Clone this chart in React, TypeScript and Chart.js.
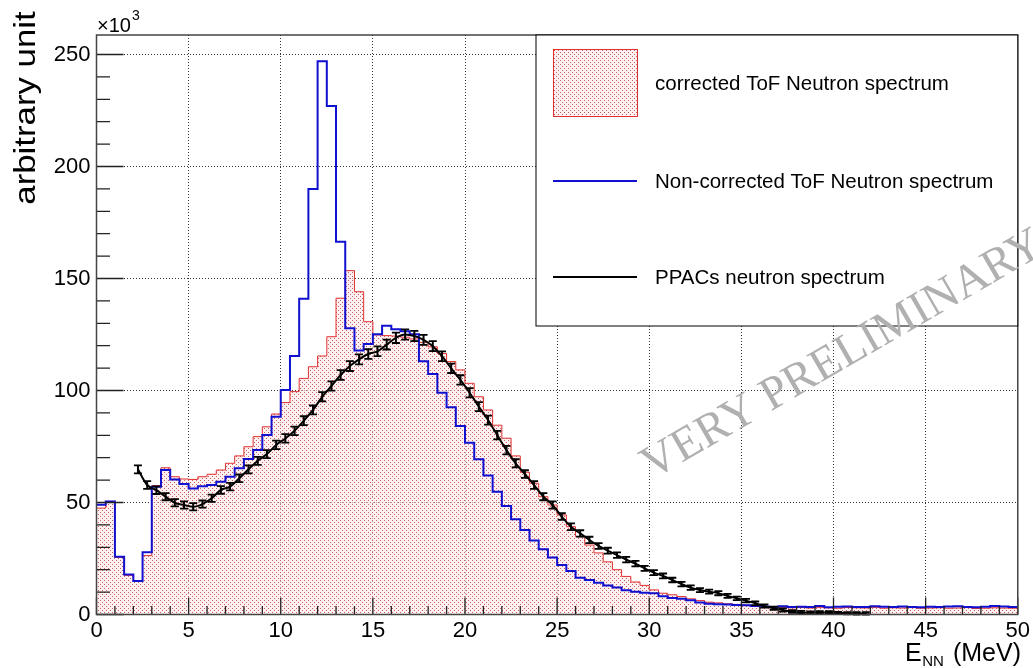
import React, { useEffect, useRef } from "react";
import { Chart, registerables } from "chart.js";

Chart.register(...registerables);

const FONT = "'Liberation Sans', Arial, Helvetica, sans-serif";
const SERIF = "'Liberation Serif', 'Times New Roman', serif";

// axis definition (energy in MeV, counts in units of 10^3)
const xMin = 0;
const xMax = 50;
const binWidth = 0.5;
const yMaxK = 258.7;
const xTickStep = 5;
const yTickStep = 50;

// corrected ToF neutron spectrum, 100 bins of 0.5 MeV (x10^3)
const correctedToF = [
  47.5, 50.5, 25.5, 17.5, 14.8, 26.3, 57.5, 65.5, 61.5, 60.5,
  60.3, 61.5, 62.6, 64.5, 67.5, 70.8, 74.9, 79.4, 83.8, 89.5,
  94.6, 99.5, 105.4, 110.6, 115.4, 124.0, 141.2, 153.5, 144.1, 130.7,
  124.8, 124.5, 124.3, 123.8, 123.0, 121.5, 119.5, 116.5, 112.9, 109.2,
  103.2, 97.2, 91.3, 84.5, 78.7, 70.8, 63.5, 58.6, 52.6, 48.9,
  44.4, 39.2, 34.7, 31.0, 27.5, 23.5, 20.0, 17.0, 14.5, 13.0,
  11.0, 9.5, 8.8, 8.0, 7.0, 6.2, 5.5, 5.2, 4.8, 4.5,
  4.2, 4.0, 3.4, 3.2, 3.3, 3.0, 3.1, 2.9, 3.2, 3.0,
  2.8, 3.1, 3.0, 2.9, 3.2, 2.8, 3.0, 2.9, 3.1, 2.8,
  2.9, 3.0, 2.8, 2.9, 3.1, 2.7, 2.8, 3.0, 2.9, 2.8,
];

// non-corrected ToF neutron spectrum, 100 bins of 0.5 MeV (x10^3)
const nonCorrectedToF = [
  49.0, 50.5, 25.8, 17.9, 15.0, 27.8, 57.0, 64.5, 60.3, 58.3,
  56.3, 57.2, 57.8, 59.3, 61.5, 65.3, 69.4, 73.4, 80.1, 88.3,
  100.2, 115.4, 141.0, 190.0, 247.0, 227.0, 166.4, 127.8, 117.8, 120.8,
  125.1, 128.9, 127.3, 126.5, 125.1, 113.0, 107.4, 99.0, 92.5, 84.2,
  76.7, 69.3, 62.0, 54.8, 48.4, 42.5, 37.7, 33.0, 29.1, 25.5,
  22.1, 19.4, 16.4, 15.4, 14.2, 13.0, 12.0, 10.8, 10.2, 9.7,
  9.5, 8.2, 7.4, 7.0, 6.4, 5.4, 4.8, 4.6, 4.5, 4.2,
  4.1, 3.8, 3.6, 3.4, 3.7, 3.3, 3.5, 3.4, 3.8, 3.2,
  3.5, 3.6, 3.3, 3.4, 3.7, 3.5, 3.3, 3.6, 3.4, 3.2,
  3.5, 3.3, 3.6, 3.7, 3.4, 3.2, 3.5, 3.8, 3.6, 3.3,
];

// PPACs neutron spectrum: points at bin centres from 2.25 MeV (x10^3)
const ppacStart = 2.25;
const ppacValues = [
  64.8, 57.8, 55.5, 52.6, 49.9, 48.9, 48.1, 49.3, 51.9, 55.6,
  57.1, 60.8, 64.8, 68.6, 71.6, 75.7, 78.6, 82.0, 86.5, 91.3,
  97.2, 102.0, 106.9, 110.9, 113.9, 116.3, 117.5, 120.5, 123.5, 125.0,
  124.3, 122.6, 119.8, 115.3, 109.9, 104.7, 99.0, 92.8, 86.8, 80.1,
  73.4, 67.5, 62.7, 57.8, 52.6, 48.9, 43.7, 39.2, 36.2, 33.3,
  30.6, 28.5, 26.5, 24.5, 22.7, 20.6, 18.7, 17.2, 15.4, 13.6,
  12.0, 10.9, 10.2, 9.5, 8.3, 7.2, 6.2, 5.0, 3.8, 2.8,
  2.0, 1.3, 1.0, 0.8, 0.9, 0.9, 0.7, 0.6, 0.5, 0.5,
];
const ppacErrors = [
  1.8, 1.7, 1.7, 1.6, 1.6, 1.6, 1.6, 1.6, 1.6, 1.7,
  1.7, 1.7, 1.8, 1.8, 1.8, 1.9, 1.9, 1.9, 2.0, 2.0,
  2.1, 2.1, 2.2, 2.2, 2.2, 2.2, 2.2, 2.2, 2.3, 2.3,
  2.3, 2.2, 2.2, 2.2, 2.1, 2.1, 2.1, 2.0, 2.0, 1.9,
  1.9, 1.8, 1.7, 1.7, 1.6, 1.6, 1.5, 1.5, 1.4, 1.4,
  1.3, 1.3, 1.2, 1.2, 1.2, 1.1, 1.1, 1.1, 1.0, 1.0,
  1.0, 0.9, 0.9, 0.9, 0.9, 0.8, 0.8, 0.8, 0.7, 0.7,
  0.7, 0.6, 0.6, 0.6, 0.6, 0.6, 0.5, 0.5, 0.5, 0.5,
];

const legendLabels = [
  "corrected ToF Neutron spectrum",
  "Non-corrected ToF Neutron spectrum",
  "PPACs neutron spectrum",
];
const watermark = "VERY PRELIMINARY";
const yTitle = "arbitrary unit";

function histPoints(values: number[]) {
  const pts = values.map((v, i) => ({ x: xMin + i * binWidth, y: v }));
  pts.push({ x: xMin + values.length * binWidth, y: values[values.length - 1] });
  return pts;
}

function ppacPoints() {
  return ppacValues.map((v, i) => ({ x: ppacStart + i * binWidth, y: v }));
}

export default function App() {
  const ref = useRef<HTMLCanvasElement | null>(null);

  useEffect(() => {
    const canvas = ref.current;
    if (!canvas) return;
    const ctx0 = canvas.getContext("2d")!;
    const pc = document.createElement("canvas");
    pc.width = 4;
    pc.height = 4;
    const pctx = pc.getContext("2d")!;
    pctx.fillStyle = "rgba(255,232,232,0.6)";
    pctx.fillRect(0, 0, 4, 4);
    pctx.fillStyle = "rgb(200,95,95)";
    pctx.fillRect(0, 0, 1, 1);
    pctx.fillRect(2, 2, 1, 1);
    const pattern = ctx0.createPattern(pc, "repeat")!;

    const errorBars = {
      id: "errorBars",
      afterDatasetsDraw(chart: any) {
        const { ctx } = chart;
        const x = chart.scales.x;
        const y = chart.scales.y;
        ctx.save();
        ctx.strokeStyle = "#000";
        ppacValues.forEach((v, i) => {
          const px = x.getPixelForValue(ppacStart + i * binWidth);
          const e = ppacErrors[i];
          const y1 = y.getPixelForValue(v - e);
          const y2 = y.getPixelForValue(v + e);
          ctx.lineWidth = 2;
          ctx.beginPath();
          ctx.moveTo(px, y1);
          ctx.lineTo(px, y2);
          ctx.stroke();
          ctx.lineWidth = 1.8;
          ctx.beginPath();
          ctx.moveTo(px - 4, y1);
          ctx.lineTo(px + 4, y1);
          ctx.moveTo(px - 4, y2);
          ctx.lineTo(px + 4, y2);
          ctx.stroke();
        });
        ctx.restore();
      },
    };

    const frame = {
      id: "frameDecor",
      afterDraw(chart: any) {
        const { ctx, chartArea: a } = chart;
        const x = chart.scales.x;
        const y = chart.scales.y;
        ctx.save();
        // inward ticks
        ctx.strokeStyle = "#222";
        ctx.lineWidth = 1.3;
        ctx.beginPath();
        for (let v = xMin; v <= xMax; v += 1) {
          const px = x.getPixelForValue(v);
          const len = v % xTickStep === 0 ? 17 : 8.5;
          ctx.moveTo(px, a.bottom);
          ctx.lineTo(px, a.bottom - len);
        }
        for (let v = 0; v <= yMaxK; v += 10) {
          const py = y.getPixelForValue(v);
          const len = v % yTickStep === 0 ? 27 : 13.5;
          ctx.moveTo(a.left, py);
          ctx.lineTo(a.left + len, py);
        }
        ctx.stroke();
        // frame
        ctx.strokeStyle = "#444";
        ctx.lineWidth = 1.5;
        ctx.strokeRect(a.left, a.top, a.right - a.left, a.bottom - a.top);

        // legend box
        const lx = 536, ly = a.top, lw = a.right - 536, lh = 326 - a.top;
        ctx.fillStyle = "#fff";
        ctx.fillRect(lx, ly, lw, lh);
        ctx.strokeStyle = "#000";
        ctx.lineWidth = 1;
        ctx.strokeRect(lx, ly, lw, lh);
        ctx.fillStyle = pattern;
        ctx.fillRect(553, 49, 85, 68);
        ctx.strokeStyle = "#e03030";
        ctx.strokeRect(553.5, 49.5, 84, 67);
        ctx.lineWidth = 2;
        ctx.strokeStyle = "#1010d0";
        ctx.beginPath();
        ctx.moveTo(553, 181);
        ctx.lineTo(637, 181);
        ctx.stroke();
        ctx.strokeStyle = "#000";
        ctx.beginPath();
        ctx.moveTo(553, 277);
        ctx.lineTo(637, 277);
        ctx.stroke();
        ctx.fillStyle = "#000";
        ctx.font = `20.5px ${FONT}`;
        ctx.textAlign = "left";
        ctx.textBaseline = "middle";
        ctx.fillText(legendLabels[0], 655, 84);
        ctx.fillText(legendLabels[1], 655, 182);
        ctx.fillText(legendLabels[2], 655, 278);

        // x10^3
        ctx.textBaseline = "alphabetic";
        ctx.font = `20px ${FONT}`;
        ctx.fillText("\u00d710", 97, 32);
        const w = ctx.measureText("\u00d710").width;
        ctx.font = `14px ${FONT}`;
        ctx.fillText("3", 97 + w + 1, 20);

        // x title
        ctx.font = `25px ${FONT}`;
        ctx.fillText("E", 905, 661);
        const we = ctx.measureText("E").width;
        ctx.font = `15px ${FONT}`;
        ctx.fillText("NN", 905 + we + 0.5, 666);
        ctx.font = `25px ${FONT}`;
        ctx.textAlign = "right";
        ctx.fillText("(MeV)", 1021, 661);

        // y title
        ctx.save();
        ctx.translate(27, 108);
        ctx.rotate(-Math.PI / 2);
        ctx.scale(1.2, 1);
        ctx.font = `29px ${FONT}`;
        ctx.textAlign = "center";
        ctx.textBaseline = "middle";
        ctx.fillText(yTitle, 0, 0);
        ctx.restore();

        // watermark
        ctx.save();
        ctx.translate(652, 480);
        ctx.rotate(-Math.PI / 6);
        ctx.font = `47px ${SERIF}`;
        ctx.fillStyle = "#b0b0b0";
        ctx.textAlign = "left";
        ctx.textBaseline = "alphabetic";
        ctx.fillText(watermark, 0, 0);
        ctx.restore();

        ctx.restore();
      },
    };

    const chart = new Chart(canvas, {
      type: "line",
      data: {
        datasets: [
          {
            label: legendLabels[2],
            data: ppacPoints(),
            borderColor: "#000",
            borderWidth: 2,
            pointRadius: 0,
            cubicInterpolationMode: "monotone",
            fill: false,
            order: 0,
          },
          {
            label: legendLabels[1],
            data: histPoints(nonCorrectedToF),
            borderColor: "#1010d0",
            borderWidth: 2,
            pointRadius: 0,
            stepped: true,
            fill: false,
            order: 1,
          },
          {
            label: legendLabels[0],
            data: histPoints(correctedToF),
            borderColor: "#e03030",
            borderWidth: 1,
            pointRadius: 0,
            stepped: true,
            fill: "origin",
            backgroundColor: pattern,
            order: 2,
          },
        ],
      } as any,
      options: {
        responsive: false,
        animation: false,
        devicePixelRatio: 1,
        layout: { padding: { top: 35, right: 12.5, left: 0, bottom: 0 } },
        plugins: {
          legend: { display: false },
          tooltip: { enabled: false },
        },
        scales: {
          x: {
            type: "linear",
            min: xMin,
            max: xMax,
            afterFit: (s: any) => {
              s.height = 53.5;
            },
            ticks: {
              stepSize: xTickStep,
              includeBounds: false,
              autoSkip: false,
              maxRotation: 0,
              padding: 3,
              color: "#000",
              font: { family: FONT, size: 22 },
            },
            grid: { drawTicks: false, color: "#333", lineWidth: 1 },
            border: { display: false, dash: [1, 2] },
          },
          y: {
            type: "linear",
            min: 0,
            max: yMaxK,
            afterFit: (s: any) => {
              s.width = 96.5;
            },
            ticks: {
              stepSize: yTickStep,
              includeBounds: false,
              padding: 6,
              color: "#000",
              font: { family: FONT, size: 22 },
            },
            grid: { drawTicks: false, color: "#333", lineWidth: 1 },
            border: { display: false, dash: [1, 2] },
          },
        },
      } as any,
      plugins: [errorBars, frame],
    });
    return () => chart.destroy();
  }, []);

  return (
    <div style={{ position: "absolute", left: 0, top: 0, width: 1033, height: 668, background: "#fff" }}>
      <canvas ref={ref} width={1033} height={668} style={{ display: "block" }} />
    </div>
  );
}
